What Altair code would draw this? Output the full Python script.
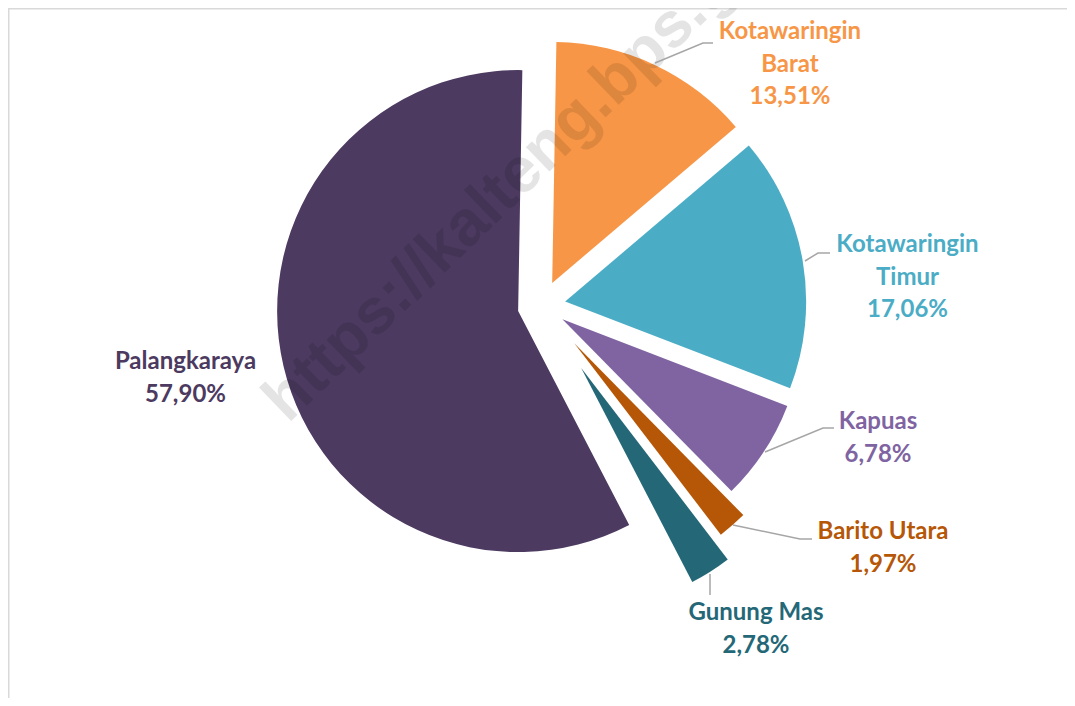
import math
import altair as alt
import pandas as pd

# ---------------- data ----------------
regions = ["Kotawaringin Barat", "Kotawaringin Timur", "Kapuas",
           "Barito Utara", "Gunung Mas", "Palangkaraya"]
shares = [13.51, 17.06, 6.78, 1.97, 2.78, 57.90]
label_name_lines = [["Kotawaringin", "Barat"], ["Kotawaringin", "Timur"], ["Kapuas"],
                    ["Barito Utara"], ["Gunung Mas"], ["Palangkaraya"]]
watermark_text = "https://kalteng.bps.go.id"

# ---------------- style / layout ----------------
colors = ["#F79646", "#4BACC6", "#8064A2", "#B65708", "#246878", "#4C3A60"]
explode = [25, 24, 25, 50, 74, 24]          # px offset of each slice
CX, CY, R = 533.5, 297.6, 241               # pie centre and radius (px)
ROT = math.radians(1.0)                     # start angle
label_anchor = [(782, 24), (899.5, 237), (870, 414), (875, 524), (748, 605), (177.5, 354)]
LINE_H = 32.5
leaders = [
    [(647, 55), (695, 35), (705, 35)],
    [(797, 253), (810, 245), (822, 245)],
    [(757, 444), (815, 420), (826, 420)],
    [(725, 517), (792, 531), (804, 531)],
    [(702, 566), (702, 587)],
]
W, H = 1059, 690

# ---------------- tables ----------------
slice_df = pd.DataFrame({"region": regions, "share": shares,
                         "order": list(range(len(regions))), "explode": explode})

rows = []
for reg, sh, lines, (lx, ly) in zip(regions, shares, label_name_lines, label_anchor):
    pct = f"{sh:.2f}".replace(".", ",") + "%"
    for i, t in enumerate(lines + [pct]):
        rows.append({"region": reg, "text": t, "x": lx, "y": ly + i * LINE_H})
label_df = pd.DataFrame(rows)

lrows = []
for k, seg in enumerate(leaders):
    for j, (x, y) in enumerate(seg):
        lrows.append({"seg": k, "ord": j, "x": x, "y": y})
leader_df = pd.DataFrame(lrows)

color_scale = alt.Scale(domain=regions, range=colors)
TWO_PI = 2 * math.pi

arcs = (
    alt.Chart(slice_df)
    .transform_window(cum="sum(share)", sort=[alt.SortField("order")], frame=[None, 0])
    .transform_calculate(
        t0=f"(datum.cum - datum.share) / 100 * {TWO_PI} + {ROT}",
        t1=f"datum.cum / 100 * {TWO_PI} + {ROT}",
    )
    .transform_calculate(mid="(datum.t0 + datum.t1) / 2")
    .transform_calculate(
        px=f"{CX} + datum.explode * sin(datum.mid)",
        py=f"{CY} - datum.explode * cos(datum.mid)",
    )
    .mark_arc(radius=R)
    .encode(
        theta=alt.Theta("t0:Q", scale=None),
        theta2="t1:Q",
        x=alt.X("px:Q", scale=None, axis=None),
        y=alt.Y("py:Q", scale=None, axis=None),
        color=alt.Color("region:N", scale=color_scale, legend=None),
    )
)

watermark = (
    alt.Chart(pd.DataFrame({"t": [watermark_text]}))
    .mark_text(angle=316, font="Liberation Sans", fontWeight="bold", fontSize=64,
               align="left", baseline="alphabetic", color="black", opacity=0.1)
    .encode(x=alt.value(280), y=alt.value(416), text="t:N")
)

leader_lines = (
    alt.Chart(leader_df)
    .mark_line(color="#a6a6a6", strokeWidth=1.5)
    .encode(x=alt.X("x:Q", scale=None, axis=None), y=alt.Y("y:Q", scale=None, axis=None),
            detail="seg:N", order="ord:Q")
)

labels = (
    alt.Chart(label_df)
    .mark_text(font="Lato", fontWeight="bold", fontSize=24, align="center", baseline="middle")
    .encode(x=alt.X("x:Q", scale=None, axis=None), y=alt.Y("y:Q", scale=None, axis=None),
            text="text:N", color=alt.Color("region:N", scale=color_scale, legend=None))
)

one = pd.DataFrame({"a": [0]})
border_top = alt.Chart(one).mark_rule(color="#d9d9d9", strokeWidth=1.5).encode(
    x=alt.value(0), x2=alt.value(W), y=alt.value(0.75))
border_left = alt.Chart(one).mark_rule(color="#d9d9d9", strokeWidth=1.5).encode(
    x=alt.value(0.75), y=alt.value(0), y2=alt.value(H))

chart = (
    alt.layer(border_top, border_left, arcs, watermark, leader_lines, labels)
    .properties(width=W, height=H, padding=0, autosize="none")
    .configure_view(stroke=None)
)

chart.save("out.html", embed_options={"renderer": "svg", "actions": False})
